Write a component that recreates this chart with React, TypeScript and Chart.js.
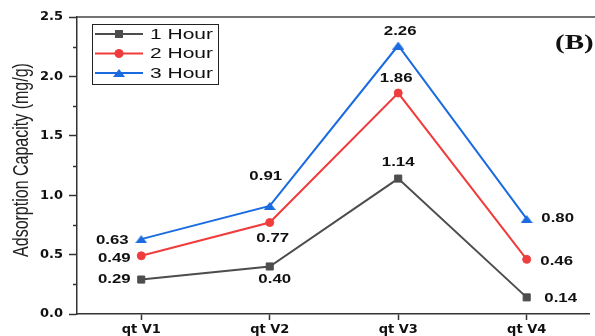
import React, { useEffect, useRef } from 'react';
import { Chart, registerables } from 'chart.js';

Chart.register(...registerables);

const categories = ['qt V1', 'qt V2', 'qt V3', 'qt V4'];
const seriesNames = ['1 Hour', '2 Hour', '3 Hour'];
const hour1 = [0.29, 0.4, 1.14, 0.14];
const hour2 = [0.49, 0.77, 1.86, 0.46];
const hour3 = [0.63, 0.91, 2.26, 0.8];
const yTicks = [0, 0.5, 1.0, 1.5, 2.0, 2.5];
const yMinorTicks = [0.25, 0.75, 1.25, 1.75, 2.25];
const yTitle = 'Adsorption Capacity (mg/g)';
const panelLabel = '(B)';

const COLORS = ['#4d4d4d', '#f03c3c', '#1a6be0'];
const STYLES = ['rect', 'circle', 'triangle'];
// label offsets in px relative to each point [dx, dy]
const LABEL_OFFSETS = [
  [[-27, 0], [5, 13], [0, -16], [34, 1]],
  [[-27, 3], [3, 16], [-2, -14], [30, 2]],
  [[-29, 2], [-4, -29], [2, -14], [31, 0]],
];

function makeTriangle(color: string, w: number, h: number) {
  const c = document.createElement('canvas');
  c.width = w;
  c.height = h;
  const ctx = c.getContext('2d')!;
  ctx.fillStyle = color;
  ctx.beginPath();
  ctx.moveTo(w / 2, 0);
  ctx.lineTo(w, h);
  ctx.lineTo(0, h);
  ctx.closePath();
  ctx.fill();
  return c;
}

export default function App() {
  const ref = useRef<HTMLCanvasElement>(null);

  useEffect(() => {
    if (!ref.current) return;
    const tri = makeTriangle(COLORS[2], 12, 8);
    const series = [hour1, hour2, hour3];

    const drawMarker = (ctx: CanvasRenderingContext2D, i: number, x: number, y: number) => {
      ctx.fillStyle = COLORS[i];
      if (i === 0) {
        ctx.fillRect(x - 4, y - 4, 8, 8);
      } else if (i === 1) {
        ctx.beginPath();
        ctx.arc(x, y, 4.5, 0, Math.PI * 2);
        ctx.fill();
      } else {
        ctx.drawImage(tri, x - 6, y - 4);
      }
    };

    const decor = {
      id: 'decor',
      afterDatasetsDraw(chart: any) {
        const ctx: CanvasRenderingContext2D = chart.ctx;
        const xs = chart.scales.x;
        const ys = chart.scales.y;
        const area = chart.chartArea;
        ctx.save();
        // top frame line
        ctx.strokeStyle = '#444';
        ctx.lineWidth = 1.5;
        ctx.beginPath();
        ctx.moveTo(area.left, area.top);
        ctx.lineTo(chart.width, area.top);
        ctx.stroke();
        // minor y ticks
        ctx.strokeStyle = '#333';
        ctx.lineWidth = 1.5;
        yMinorTicks.forEach((v) => {
          const py = Math.round(ys.getPixelForValue(v)) + 0.5;
          ctx.beginPath();
          ctx.moveTo(area.left - 4, py);
          ctx.lineTo(area.left, py);
          ctx.stroke();
        });
        // data labels
        ctx.fillStyle = '#111';
        ctx.font = 'bold 12px "Liberation Sans", Arial, sans-serif';
        ctx.textAlign = 'center';
        ctx.textBaseline = 'middle';
        series.forEach((arr, si) => {
          arr.forEach((v, i) => {
            const px = xs.getPixelForValue(i) + LABEL_OFFSETS[si][i][0];
            const py = ys.getPixelForValue(v) + LABEL_OFFSETS[si][i][1];
            ctx.save();
            ctx.translate(px, py);
            ctx.scale(1.4, 1);
            ctx.fillText(v.toFixed(2), 0, 0);
            ctx.restore();
          });
        });
        // legend
        ctx.strokeStyle = '#222';
        ctx.lineWidth = 1;
        ctx.strokeRect(92.5, 24.5, 126, 60);
        const rows = [34, 53.5, 73];
        seriesNames.forEach((name, i) => {
          const ry = rows[i];
          ctx.strokeStyle = COLORS[i];
          ctx.lineWidth = 2;
          ctx.beginPath();
          ctx.moveTo(95, ry);
          ctx.lineTo(143, ry);
          ctx.stroke();
          drawMarker(ctx, i, 119, ry);
          ctx.save();
          ctx.fillStyle = '#111';
          ctx.font = '14px "Liberation Sans", Arial, sans-serif';
          ctx.textAlign = 'left';
          ctx.textBaseline = 'middle';
          ctx.translate(150, ry + 1);
          ctx.scale(1.5, 1);
          ctx.fillText(name, 0, 0);
          ctx.restore();
        });
        // y title
        ctx.save();
        ctx.fillStyle = '#222';
        ctx.font = '16px "Liberation Sans", Arial, sans-serif';
        ctx.textAlign = 'center';
        ctx.textBaseline = 'middle';
        ctx.translate(22, 160);
        ctx.rotate(-Math.PI / 2);
        ctx.scale(1, 1.4);
        ctx.fillText(yTitle, 0, 0);
        ctx.restore();
        // panel label
        ctx.save();
        ctx.fillStyle = '#111';
        ctx.font = 'bold 20px "Liberation Serif", "Times New Roman", serif';
        ctx.textAlign = 'left';
        ctx.textBaseline = 'middle';
        ctx.translate(555, 44);
        ctx.scale(1.45, 1);
        ctx.fillText(panelLabel, 0, 0);
        ctx.restore();
        ctx.restore();
      },
    };

    const tickFont = { family: '"DejaVu Sans", sans-serif', weight: 'bold' as const, size: 13 };

    const chart = new Chart(ref.current, {
      type: 'line',
      data: {
        datasets: series.map((arr, i) => ({
          label: seriesNames[i],
          data: arr.map((v, k) => ({ x: k, y: v })),
          borderColor: COLORS[i],
          backgroundColor: COLORS[i],
          borderWidth: 2,
          pointStyle: i === 2 ? (tri as any) : STYLES[i],
          pointRadius: i === 0 ? 5 : 4,
          pointBorderWidth: 1,
          pointBorderColor: COLORS[i],
          pointBackgroundColor: COLORS[i],
          tension: 0,
          fill: false,
        })),
      },
      options: {
        responsive: false,
        animation: false,
        layout: { padding: { top: 17, right: 0, left: 0, bottom: 0 } },
        plugins: { legend: { display: false }, tooltip: { enabled: false } },
        scales: {
          x: {
            type: 'linear',
            min: -0.5,
            max: 3.485,
            afterBuildTicks: (s: any) => {
              s.ticks = categories.map((_, i) => ({ value: i }));
            },
            afterFit: (s: any) => {
              s.height = 22;
            },
            ticks: {
              callback: (v: any) => categories[Number(v)],
              font: tickFont,
              color: '#111',
              padding: 2,
              autoSkip: false,
              maxRotation: 0,
            },
            grid: { drawOnChartArea: false, drawTicks: true, tickLength: 6, tickColor: '#333', tickWidth: 1.5 },
            border: { display: true, color: '#333', width: 1.5 },
          },
          y: {
            type: 'linear',
            min: 0,
            max: 2.5,
            afterBuildTicks: (s: any) => {
              s.ticks = yTicks.map((v) => ({ value: v }));
            },
            afterFit: (s: any) => {
              s.width = 77;
            },
            ticks: {
              callback: (v: any) => Number(v).toFixed(1),
              font: tickFont,
              color: '#111',
              padding: 6,
            },
            grid: { drawOnChartArea: false, drawTicks: true, tickLength: 8, tickColor: '#333', tickWidth: 1.5 },
            border: { display: true, color: '#333', width: 1.5 },
          },
        },
      } as any,
      plugins: [decor],
    });
    return () => chart.destroy();
  }, []);

  return (
    <div style={{ position: 'absolute', left: 0, top: 0, width: 595, height: 336, background: '#fff' }}>
      <canvas ref={ref} width={595} height={336} />
    </div>
  );
}
